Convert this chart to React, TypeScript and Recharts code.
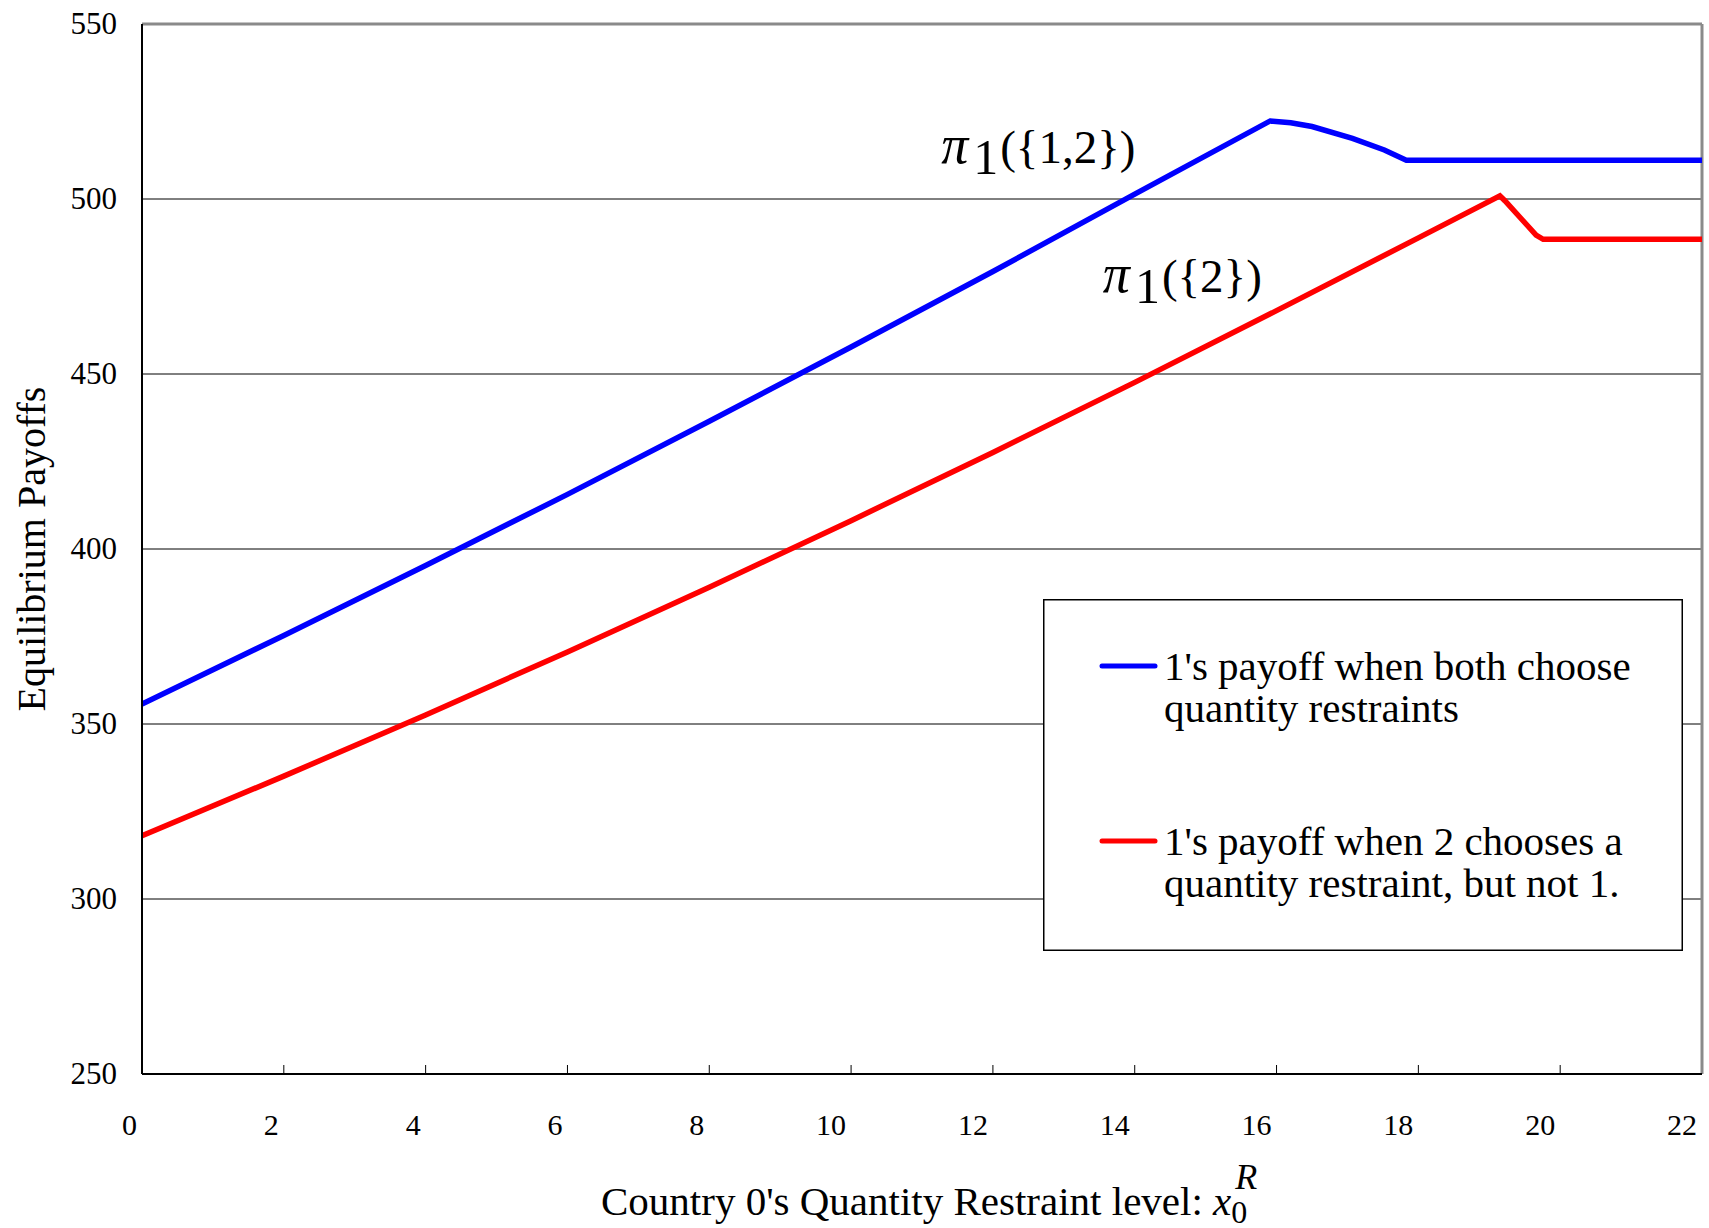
import {
  CartesianGrid,
  Legend,
  Line,
  LineChart,
  ReferenceDot,
  ReferenceLine,
  XAxis,
  YAxis,
} from "recharts";

const FONT = "'Liberation Serif', 'Times New Roman', serif";

// x positions / payoffs
const BLUE_X = [0, 2, 4, 6, 8, 10, 12, 14, 15.91, 16.2, 16.5, 17.07, 17.52, 17.83, 22];
const BLUE_Y = [355.7, 375.3, 395.3, 415.6, 436.5, 457.7, 479.3, 501.4, 522.3, 521.8, 520.7, 517.3, 514.0, 511.1, 511.1];

const RED_X = [0, 2, 4, 6, 8, 10, 12, 14, 16, 18, 19.15, 19.22, 19.66, 19.76, 22];
const RED_Y = [318.1, 335.1, 352.6, 370.6, 389.1, 408.1, 427.6, 447.6, 468.1, 488.9, 500.9, 499.5, 489.7, 488.5, 488.5];

const X_TICKS = [0, 2, 4, 6, 8, 10, 12, 14, 16, 18, 20, 22];
const Y_TICKS = [250, 300, 350, 400, 450, 500, 550];
const X_DOMAIN: [number, number] = [0, 22];
const Y_DOMAIN: [number, number] = [250, 550];

const BLUE_NAME = "1's payoff when both choose\nquantity restraints";
const RED_NAME = "1's payoff when 2 chooses a\nquantity restraint, but not 1.";
const LEGEND_ORDER = [BLUE_NAME, RED_NAME];

const ANNOTATIONS = [
  { x: 11.27, y: 510.3, sub: "1", rest: "({1,2})" },
  { x: 13.55, y: 473.4, sub: "1", rest: "({2})" },
];

const blueData = BLUE_X.map((x, i) => ({ x, y: BLUE_Y[i] }));
const redData = RED_X.map((x, i) => ({ x, y: RED_Y[i] }));

function XTick(props: any) {
  const { x, y, payload } = props;
  const v = payload.value;
  const inner = v > X_DOMAIN[0] && v < X_DOMAIN[1];
  return (
    <g>
      {inner && <line x1={x} x2={x} y1={y} y2={y - 9} stroke="#000" strokeWidth={1} />}
      <text x={x - 5} y={y + 61} textAnchor="end" fontFamily={FONT} fontSize={30} fill="#000">
        {v}
      </text>
    </g>
  );
}

function YTick(props: any) {
  const { x, y, payload } = props;
  return (
    <text x={x - 25} y={y + 10} textAnchor="end" fontFamily={FONT} fontSize={31} fill="#000">
      {payload.value}
    </text>
  );
}

function XTitle(props: any) {
  const vb = props.viewBox ?? { x: 142, y: 1074, width: 1560, height: 154 };
  return (
    <text x={vb.x + 459} y={vb.y + 141} fontFamily={FONT} fontSize={41} fill="#000">
      <tspan>Country 0's Quantity Restraint level: </tspan>
      <tspan fontStyle="italic">x</tspan>
      <tspan fontSize={32} dy={8}>0</tspan>
      <tspan fontStyle="italic" fontSize={36} dx={-12} dy={-34}>
        R
      </tspan>
    </text>
  );
}

function YTitle(props: any) {
  const vb = props.viewBox ?? { x: 0, y: 24, width: 142, height: 1050 };
  const cx = vb.x + 32;
  const cy = vb.y + vb.height / 2;
  return (
    <text
      transform={`translate(${cx}, ${cy}) rotate(-90)`}
      textAnchor="middle"
      dy="0.33em"
      fontFamily={FONT}
      fontSize={40}
      fill="#000"
    >
      Equilibrium Payoffs
    </text>
  );
}

function Annotation({ viewBox, sub, rest }: any) {
  const x = viewBox?.x ?? 0;
  const y = viewBox?.y ?? 0;
  return (
    <text x={x} y={y} fontFamily={FONT} fontSize={47} fill="#000">
      <tspan fontStyle="italic" fontSize={54}>
        π
      </tspan>
      <tspan fontSize={50} dx={5} dy={11}>
        {sub}
      </tspan>
      <tspan dx={2} dy={-11}>
        {rest}
      </tspan>
    </text>
  );
}

// legend rows: sample-line y and text baselines inside the box
const LEGEND_ROWS = [
  { lineY: 67, base: [81, 123] },
  { lineY: 242, base: [256, 298] },
];

function LegendBox({ payload }: any) {
  const items = (payload ?? []) as any[];
  return (
    <svg width={640} height={352} style={{ display: "block" }}>
      <rect x={0.75} y={0.75} width={638.5} height={350.5} fill="#fff" stroke="#000" strokeWidth={1.5} />
      {items.map((entry, i) => {
        const row = LEGEND_ROWS[LEGEND_ORDER.indexOf(String(entry.value))];
        if (!row) return null;
        const lines = String(entry.value).split("\n");
        return (
          <g key={i}>
            <line
              x1={59}
              x2={112}
              y1={row.lineY}
              y2={row.lineY}
              stroke={entry.color}
              strokeWidth={5}
              strokeLinecap="round"
            />
            {lines.map((t, j) => (
              <text key={j} x={121} y={row.base[j]} fontFamily={FONT} fontSize={41} fill="#000">
                {t}
              </text>
            ))}
          </g>
        );
      })}
    </svg>
  );
}

export default function App() {
  return (
    <div style={{ position: "absolute", left: 0, top: 0, background: "#fff" }}>
      <LineChart width={1709} height={1228} margin={{ top: 24, right: 7, bottom: 0, left: 0 }}>
        <CartesianGrid vertical={false} stroke="#000" strokeWidth={1} />
        <XAxis
          dataKey="x"
          type="number"
          domain={X_DOMAIN}
          ticks={X_TICKS}
          allowDataOverflow
          height={154}
          tickSize={0}
          tickMargin={0}
          tickLine={false}
          axisLine={{ stroke: "#000", strokeWidth: 2 }}
          tick={<XTick />}
          interval={0}
          label={<XTitle />}
        />
        <YAxis
          type="number"
          domain={Y_DOMAIN}
          ticks={Y_TICKS}
          allowDataOverflow
          width={142}
          tickSize={0}
          tickMargin={0}
          tickLine={false}
          axisLine={{ stroke: "#000", strokeWidth: 2 }}
          tick={<YTick />}
          interval={0}
          label={<YTitle />}
        />
        <ReferenceLine y={550} stroke="#8a8a8a" strokeWidth={3} />
        <ReferenceLine x={22} stroke="#8a8a8a" strokeWidth={3} />
        <Line
          data={blueData}
          dataKey="y"
          name={BLUE_NAME}
          type="linear"
          stroke="#0000ff"
          strokeWidth={5.5}
          dot={false}
          activeDot={false}
          isAnimationActive={false}
        />
        <Line
          data={redData}
          dataKey="y"
          name={RED_NAME}
          type="linear"
          stroke="#ff0000"
          strokeWidth={5.5}
          dot={false}
          activeDot={false}
          isAnimationActive={false}
        />
        {ANNOTATIONS.map((a, i) => (
          <ReferenceDot
            key={i}
            x={a.x}
            y={a.y}
            r={0}
            fill="none"
            stroke="none"
            ifOverflow="visible"
            label={<Annotation sub={a.sub} rest={a.rest} />}
          />
        ))}
        <Legend
          layout="horizontal"
          align="center"
          verticalAlign="middle"
          content={<LegendBox />}
          wrapperStyle={{ left: 1043, top: 599, width: 640, height: 352 }}
        />
      </LineChart>
    </div>
  );
}
